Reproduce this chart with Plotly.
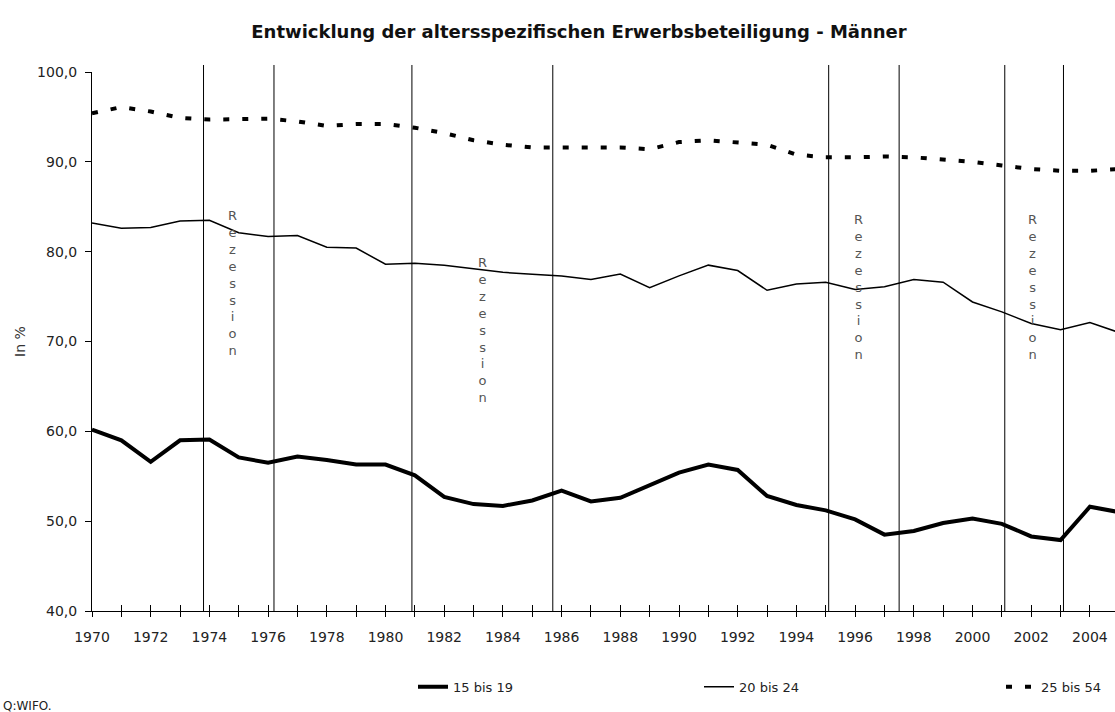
import plotly.graph_objects as go

jahre = list(range(1970, 2006))

quote_15_19 = [60.2, 59.0, 56.6, 59.0, 59.1, 57.1, 56.5, 57.2, 56.8, 56.3,
               56.3, 55.1, 52.7, 51.9, 51.7, 52.3, 53.4, 52.2, 52.6, 54.0,
               55.4, 56.3, 55.7, 52.8, 51.8, 51.2, 50.2, 48.5, 48.9, 49.8,
               50.3, 49.7, 48.3, 47.9, 51.6, 51.0]

quote_20_24 = [83.2, 82.6, 82.7, 83.4, 83.5, 82.1, 81.7, 81.8, 80.5, 80.4,
               78.6, 78.7, 78.5, 78.1, 77.7, 77.5, 77.3, 76.9, 77.5, 76.0,
               77.3, 78.5, 77.9, 75.7, 76.4, 76.6, 75.8, 76.1, 76.9, 76.6,
               74.4, 73.3, 72.0, 71.3, 72.1, 71.0]

quote_25_54 = [95.4, 96.1, 95.6, 94.9, 94.7, 94.8, 94.8, 94.5, 94.0, 94.2,
               94.2, 93.8, 93.2, 92.4, 91.9, 91.6, 91.6, 91.7, 91.6, 91.4,
               92.2, 92.4, 92.1, 91.9, 90.8, 90.5, 90.5, 90.6, 90.5, 90.3,
               90.0, 89.6, 89.2, 89.0, 89.0, 89.2]

# Beginn / Ende der Rezessionsphasen (Jahr, gebrochen)
rezession_grenzen = [1973.8, 1976.2, 1980.9, 1985.7, 1995.1, 1997.5, 2001.1, 2003.1]
# Beschriftung: x-Position (Jahr) und obere Kante (Prozentwert)
rezession_text_x = [1974.8, 1983.3, 1996.1, 2002.05]
rezession_text_y = [85.1, 79.8, 84.6, 84.6]

tick_jahre = list(range(1970, 2006))
tick_text = [str(j) if j % 2 == 0 else "" for j in tick_jahre]

FONT = "DejaVu Sans"
W, H = 1115, 712
L, T, PW, PH = 92, 72, 1023, 539
XMAX = 1970 + PW / 29.35

fig = go.Figure()
fig.add_trace(go.Scatter(x=jahre, y=quote_15_19, name="15 bis 19", mode="lines",
                         line=dict(color="black", width=4), legend="legend"))
fig.add_trace(go.Scatter(x=jahre, y=quote_20_24, name="20 bis 24", mode="lines",
                         line=dict(color="black", width=1.5), legend="legend2"))
fig.add_trace(go.Scatter(x=jahre, y=quote_25_54, name="25 bis 54", mode="lines",
                         line=dict(color="black", width=4, dash="6px,13px"), legend="legend3"))
# unsichtbare Spur fuer die zweite x-Achse (Ticks nach innen)
fig.add_trace(go.Scatter(x=[jahre[0]], y=[quote_15_19[0]], xaxis="x2", mode="lines",
                         showlegend=False, hoverinfo="skip", line=dict(width=0)))

for g in rezession_grenzen:
    fig.add_shape(type="line", x0=g, x1=g, xref="x", yref="paper", y0=0, y1=1.013,
                  line=dict(color="black", width=1))

for tx, ty in zip(rezession_text_x, rezession_text_y):
    fig.add_annotation(x=tx, y=ty, xref="x", yref="y", text="<br>".join("Rezession"),
                       showarrow=False, yanchor="top", xanchor="center",
                       font=dict(family=FONT, size=13, color="#555"))

fig.add_annotation(x=0, y=0, xref="paper", yref="paper", xshift=-L + 1, yshift=-(706 - T - PH),
                   text="Q:WIFO.", showarrow=False, xanchor="left", yanchor="middle",
                   font=dict(family=FONT, size=12, color="#222"))

leg = dict(orientation="h", xanchor="left", y=-0.1404, yanchor="middle",
           bgcolor="rgba(0,0,0,0)", font=dict(family=FONT, size=13, color="#222"))

fig.update_layout(
    width=W, height=H,
    margin=dict(l=L, r=0, t=T, b=H - T - PH),
    paper_bgcolor="white", plot_bgcolor="white",
    separators=",.",
    font=dict(family=FONT, size=14, color="#222"),
    title=dict(text="<b>Entwicklung der altersspezifischen Erwerbsbeteiligung - Männer</b>",
               x=579 / W, xanchor="center", y=1 - 32 / H, yanchor="middle",
               font=dict(family=FONT, size=18, color="#111")),
    showlegend=True,
    legend=dict(leg, x=(420 - 99) / PW),
    legend2=dict(leg, x=(706 - 99) / PW),
    legend3=dict(leg, x=(1008 - 99) / PW),
    xaxis=dict(range=[1970, XMAX], tickvals=tick_jahre, ticktext=tick_text,
               ticks="outside", ticklen=5, tickcolor="black", ticklabelstandoff=8,
               showgrid=False, zeroline=False,
               showline=True, linecolor="black", linewidth=1),
    xaxis2=dict(range=[1970, XMAX], overlaying="x", anchor="y", side="bottom",
                tickvals=tick_jahre, ticks="inside", ticklen=6, tickcolor="black",
                showticklabels=False, showgrid=False, zeroline=False, showline=False),
    yaxis=dict(range=[40, 100], dtick=10, tickformat=".1f", ticks="outside", ticklen=6,
               tickcolor="black", ticklabelstandoff=5, showgrid=False, zeroline=False,
               showline=True, linecolor="black", linewidth=1,
               title=dict(text="In %", standoff=8, font=dict(family=FONT, size=14, color="#333"))),
)

fig.write_html("out.html", config={"displayModeBar": False},
               post_script="document.body.style.margin='0';document.body.style.overflow='hidden';")
